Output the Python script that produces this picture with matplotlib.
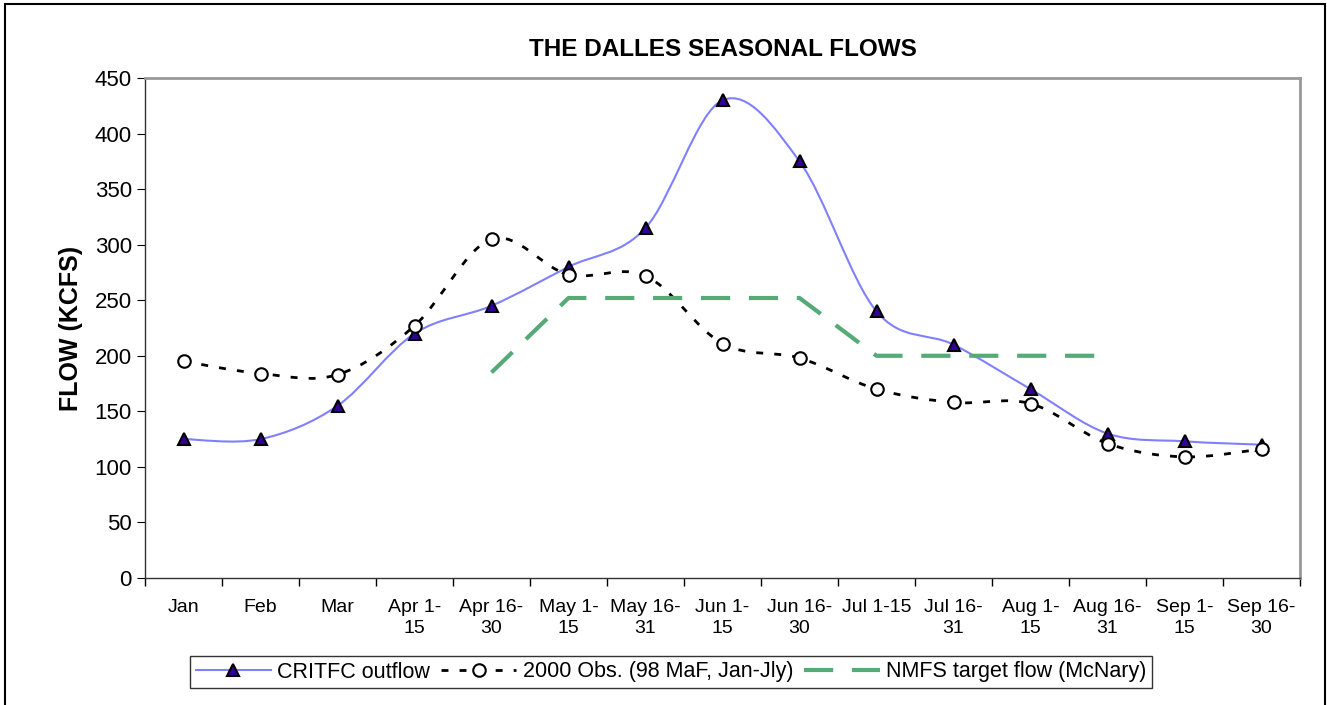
import matplotlib.pyplot as plt
import numpy as np
from matplotlib.path import Path
from matplotlib.patches import PathPatch, Rectangle
from matplotlib.lines import Line2D

plt.rcParams["font.family"] = ["Liberation Sans", "DejaVu Sans"]

periods = ["Jan", "Feb", "Mar", "Apr 1-\n15", "Apr 16-\n30", "May 1-\n15",
           "May 16-\n31", "Jun 1-\n15", "Jun 16-\n30", "Jul 1-15", "Jul 16-\n31",
           "Aug 1-\n15", "Aug 16-\n31", "Sep 1-\n15", "Sep 16-\n30"]
critfc = [125, 125, 155, 220, 245, 280, 315, 430, 375, 240, 210, 170, 130, 123, 120]
obs_2000 = [195, 184, 183, 227, 305, 273, 272, 211, 198, 170, 158, 157, 121, 109, 116]
# NMFS target only covers Apr 16-30 .. Aug 16-31
nmfs_idx = [4, 5, 6, 7, 8, 9, 10, 11, 12]
nmfs = [185, 252, 252, 252, 252, 200, 200, 200, 200]


def smooth_path(xs, ys):
    # Excel-style smoothed line: cubic bezier through points, tension 1/6
    pts = np.column_stack([xs, ys]).astype(float)
    n = len(pts)
    verts = [pts[0]]
    codes = [Path.MOVETO]
    for i in range(n - 1):
        p0 = pts[i - 1] if i > 0 else pts[i]
        p1 = pts[i]
        p2 = pts[i + 1]
        p3 = pts[i + 2] if i + 2 < n else pts[i + 1]
        c1 = p1 + (p2 - p0) / 6.0
        c2 = p2 - (p3 - p1) / 6.0
        verts += [c1, c2, p2]
        codes += [Path.CURVE4] * 3
    return Path(verts, codes)


fig = plt.figure(figsize=(13.27, 7.05), dpi=100)
ax = fig.add_axes([145 / 1327, 1 - 578 / 705, 1155 / 1327, 500 / 705])

x = np.arange(len(periods))

purple = "#8080FF"
green = "#55AA77"

ax.add_patch(PathPatch(smooth_path(x, critfc), fill=False, edgecolor=purple, lw=1.5, zorder=3))
ax.plot(x, critfc, ls="none", marker="^", ms=9, mfc="#330099", mec="black", mew=1.5, zorder=5)

dotted = PathPatch(smooth_path(x, obs_2000), fill=False, edgecolor="black", lw=2.0, zorder=3)
dotted.set_linestyle((0, (2.5, 4)))
ax.add_patch(dotted)
ax.plot(x, obs_2000, ls="none", marker="o", ms=9, mfc="white", mec="black", mew=1.5, zorder=5)

ax.plot(nmfs_idx, nmfs, color=green, lw=3, dashes=(7, 4.5), zorder=4)

ax.set_xlim(-0.5, len(periods) - 0.5)
ax.set_ylim(0, 450)
ax.set_yticks(np.arange(0, 451, 50))
ax.set_xticks(x)
ax.set_xticklabels(periods, fontsize=14, va="top", linespacing=1.3)
ax.set_xticks(np.arange(-0.5, len(periods), 1), minor=True)
ax.tick_params(axis="x", which="major", length=0, pad=15)
ax.tick_params(axis="x", which="minor", length=6, width=1, direction="out")
ax.tick_params(axis="y", labelsize=16, length=6, direction="out")
ax.set_ylabel("FLOW (KCFS)", fontsize=18, fontweight="bold", labelpad=8)
ax.set_title("THE DALLES SEASONAL FLOWS", fontsize=17.5, fontweight="bold", pad=15.5)

for side in ["top", "right"]:
    ax.spines[side].set_color("#999999")
    ax.spines[side].set_linewidth(2)
for side in ["left", "bottom"]:
    ax.spines[side].set_color("#333333")
    ax.spines[side].set_linewidth(1)

handles = [
    Line2D([], [], color=purple, lw=1.5, marker="^", ms=9, mfc="#330099", mec="black", mew=1.5),
    Line2D([], [], color="black", lw=2, ls=(0, (2.5, 4)), marker="o", ms=9, mfc="white", mec="black", mew=1.5),
    Line2D([], [], color=green, lw=3, dashes=(7, 4.5)),
]
labels = ["CRITFC outflow", "2000 Obs. (98 MaF, Jan-Jly)", "NMFS target flow (McNary)"]
leg = fig.legend(handles, labels, loc="center", bbox_to_anchor=(671 / 1327, 1 - 672 / 705),
                 ncol=3, fontsize=15.5, frameon=True, fancybox=False, edgecolor="black",
                 handlelength=3.5, handletextpad=0.3, columnspacing=0.5, borderpad=0.25)
leg.get_frame().set_linewidth(1)

fig.patches.append(Rectangle((5 / 1327, -0.05), 1320 / 1327, 1.05 - 4 / 705,
                             transform=fig.transFigure, fill=False, edgecolor="black", lw=1.5))

fig.savefig("out.png", dpi=100)
